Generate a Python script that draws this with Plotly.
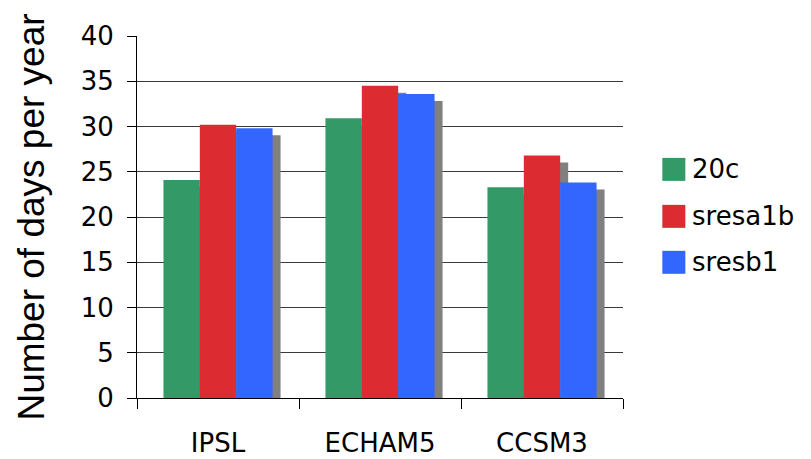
import plotly.graph_objects as go

# ---- data ----
categories = ["IPSL", "ECHAM5", "CCSM3"]
series_names = ["20c", "sresa1b", "sresb1"]
values_20c = [24.1, 30.9, 23.3]
values_sresa1b = [30.2, 34.5, 26.8]
values_sresb1 = [29.8, 33.6, 23.8]
series_values = [values_20c, values_sresa1b, values_sresb1]
series_colors = ["#339966", "#DC2C32", "#3366FF"]
shadow_color = "#808080"
y_ticks = [0, 5, 10, 15, 20, 25, 30, 35, 40]

# ---- layout geometry (pixels; page body adds an 8px offset) ----
PAGE_OFF = 8
W, H = 811 - PAGE_OFF, 459 - PAGE_OFF
L, T = 137 - PAGE_OFF, 36 - PAGE_OFF
plot_w = 485.7
plot_h = 362.3
R = W - L - plot_w
B = H - T - plot_h

bar_w = 0.2245
offsets = [-1.5 * bar_w, -0.5 * bar_w, 0.5 * bar_w]
shadow_dx = 8 / (plot_w / 3)          # 8 px to the right
shadow_dy = 7 / (plot_h / 40)         # 7 px down

fig = go.Figure()

# drop shadows first
for vals, off in zip(series_values, offsets):
    fig.add_trace(go.Bar(
        x=categories, y=vals, base=[-shadow_dy] * len(vals),
        width=[bar_w] * len(vals), offset=[off + shadow_dx] * len(vals),
        marker=dict(color=shadow_color, line=dict(width=0)),
        showlegend=False, hoverinfo="skip"))

# main bars
for name, vals, col, off in zip(series_names, series_values, series_colors, offsets):
    fig.add_trace(go.Bar(
        x=categories, y=vals, name=name,
        width=[bar_w] * len(vals), offset=[off] * len(vals),
        marker=dict(color=col, line=dict(width=0)),
        showlegend=False))

# legend (drawn manually for large square swatches); positions in window pixels
def px_x(p):
    return (p - PAGE_OFF - L) / plot_w

def px_y(p):
    return (T + plot_h - (p - PAGE_OFF)) / plot_h

legend_centers = [169.5, 216.5, 262.5]
shapes, annotations = [], []
for name, col, cy in zip(series_names, series_colors, legend_centers):
    shapes.append(dict(type="rect", xref="paper", yref="paper",
                       x0=px_x(662), x1=px_x(685), y0=px_y(cy + 11.5), y1=px_y(cy - 11.5),
                       fillcolor=col, line=dict(width=0)))
    annotations.append(dict(xref="paper", yref="paper", x=px_x(690), y=px_y(cy),
                            xanchor="left", yanchor="middle", text=name, showarrow=False,
                            font=dict(family="DejaVu Sans", size=26, color="black")))

fig.update_layout(
    width=W, height=H,
    margin=dict(l=L, r=R, t=T, b=B, autoexpand=False),
    paper_bgcolor="white", plot_bgcolor="white",
    barmode="overlay",
    showlegend=False,
    shapes=shapes, annotations=annotations,
    font=dict(family="DejaVu Sans", size=26, color="black"),
)
fig.update_xaxes(
    type="category", range=[-0.5, 2.5], tickson="boundaries",
    ticks="outside", ticklen=10, tickcolor="black", tickwidth=1,
    showline=True, linecolor="black", linewidth=1, showgrid=False,
    tickfont=dict(family="DejaVu Sans", size=26, color="black"),
    ticklabelstandoff=22, automargin=False,
)
fig.update_yaxes(
    range=[0, 40], tickvals=y_ticks, ticks="outside", ticklen=9,
    tickcolor="black", tickwidth=1,
    showline=True, linecolor="black", linewidth=1,
    showgrid=True, gridcolor="#3a3a3a", gridwidth=1.2, zeroline=False,
    tickfont=dict(family="DejaVu Sans", size=26, color="black"),
    ticklabelstandoff=8, automargin=False,
    title=dict(text="Number of days per year",
               font=dict(family="Liberation Sans", size=37, color="black"),
               standoff=24),
)

fig.write_html("out.html")
